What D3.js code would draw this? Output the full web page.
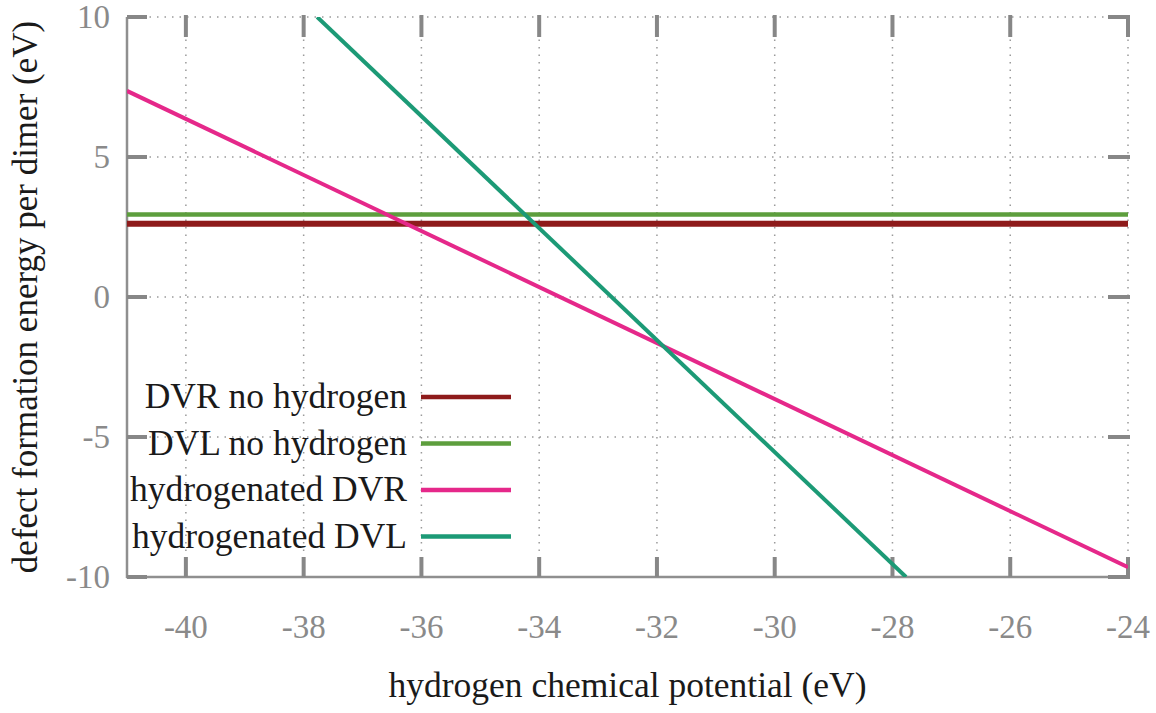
<!DOCTYPE html>
<html lang="en">
<meta charset="utf-8" />
<style>
    body {
        margin: 0;
        background: #fff;
    }

    text {
        font-family: "Liberation Serif", "DejaVu Serif", serif;
    }

    .grid line {
        stroke: #9a9a9a;
        stroke-width: 1.5px;
        stroke-dasharray: 1.5, 6;
    }

    .tick-label {
        fill: #8a8a8a;
        font-size: 33px;
    }
</style>

<body>
<svg width="1156" height="713"></svg>
<script src="https://d3js.org/d3.v7.min.js"></script>
<script>
    // chemical potential range (eV)
    var xTicks = [-40, -38, -36, -34, -32, -30, -28, -26, -24]
    var yTicks = [-10, -5, 0, 5, 10]

    var seriesNames = ["DVR no hydrogen", "DVL no hydrogen", "hydrogenated DVR", "hydrogenated DVL"]
    var seriesColors = ["#8e1b1b", "#5d9e3d", "#e5288a", "#1c9a76"]

    // [mu, E] points
    var dvrNoH = [[-41, 2.62], [-24, 2.62]]
    var dvlNoH = [[-41, 2.95], [-24, 2.95]]
    var hydDVR = [[-41, 7.36], [-24, -9.65]]
    var hydDVL = [[-37.77, 10], [-27.77, -10]]

    var svg = d3.select("svg")

    var pLeft = 127, pRight = 1128, pTop = 17, pBottom = 577

    var x = d3.scaleLinear().domain([-41, -24]).range([pLeft, pRight])
    var y = d3.scaleLinear().domain([-10, 10]).range([pBottom, pTop])

    // dotted grid
    var grid = svg.append("g").attr("class", "grid")
    grid.selectAll("line.v")
        .data(xTicks)
        .enter()
        .append("line")
        .attr("x1", d => x(d)).attr("x2", d => x(d))
        .attr("y1", pTop).attr("y2", pBottom)
    grid.selectAll("line.h")
        .data(yTicks)
        .enter()
        .append("line")
        .attr("x1", pLeft).attr("x2", pRight)
        .attr("y1", d => y(d)).attr("y2", d => y(d))

    // left and bottom axis lines
    svg.append("line")
        .attr("x1", pLeft).attr("x2", pLeft)
        .attr("y1", pTop).attr("y2", pBottom + 1)
        .attr("stroke", "#8f8f8f").attr("stroke-width", 2.5)
    svg.append("line")
        .attr("x1", pLeft - 1).attr("x2", pRight)
        .attr("y1", pBottom).attr("y2", pBottom)
        .attr("stroke", "#8f8f8f").attr("stroke-width", 2.5)

    // ticks, mirrored on top and right
    var tickLen = 20
    var ticks = svg.append("g").attr("stroke", "#878787").attr("stroke-width", 4)
    xTicks.forEach(function(d) {
        ticks.append("line")
            .attr("x1", x(d)).attr("x2", x(d))
            .attr("y1", pBottom).attr("y2", pBottom - tickLen)
        ticks.append("line")
            .attr("x1", x(d)).attr("x2", x(d))
            .attr("y1", pTop - 2).attr("y2", pTop + tickLen)
    })
    yTicks.forEach(function(d) {
        ticks.append("line")
            .attr("x1", pLeft).attr("x2", pLeft + tickLen)
            .attr("y1", y(d)).attr("y2", y(d))
        ticks.append("line")
            .attr("x1", pRight + 2).attr("x2", pRight - tickLen)
            .attr("y1", y(d)).attr("y2", y(d))
    })

    // tick labels
    svg.selectAll("text.xl")
        .data(xTicks)
        .enter()
        .append("text")
        .attr("class", "tick-label")
        .attr("x", d => x(d))
        .attr("y", 638)
        .attr("text-anchor", "middle")
        .text(d => d)
    svg.selectAll("text.yl")
        .data(yTicks)
        .enter()
        .append("text")
        .attr("class", "tick-label")
        .attr("x", 110)
        .attr("y", d => y(d) + 11)
        .attr("text-anchor", "end")
        .text(d => d)

    // axis titles
    svg.append("text")
        .attr("x", (pLeft + pRight) / 2)
        .attr("y", 697)
        .attr("text-anchor", "middle")
        .attr("font-size", 35.5)
        .attr("fill", "#1a1a1a")
        .text("hydrogen chemical potential (eV)")
    svg.append("text")
        .attr("transform", "translate(37," + (pTop + pBottom) / 2 + ") rotate(-90)")
        .attr("text-anchor", "middle")
        .attr("font-size", 35)
        .attr("fill", "#1a1a1a")
        .text("defect formation energy per dimer (eV)")

    // series
    var line = d3.line().x(d => x(d[0])).y(d => y(d[1]))
    var series = [dvrNoH, dvlNoH, hydDVR, hydDVL]
    var widths = [6, 4.5, 4, 4]

    svg.append("clipPath").attr("id", "clip")
        .append("rect")
        .attr("x", pLeft).attr("y", pTop)
        .attr("width", pRight - pLeft).attr("height", pBottom - pTop)

    svg.append("g")
        .attr("clip-path", "url(#clip)")
        .selectAll("path")
        .data(series)
        .enter()
        .append("path")
        .attr("d", d => line(d))
        .attr("fill", "none")
        .attr("stroke", (d, i) => seriesColors[i])
        .attr("stroke-width", (d, i) => widths[i])

    // legend
    var legend = svg.append("g")
    seriesNames.forEach(function(name, i) {
        var ly = 397 + i * 46.5
        legend.append("text")
            .attr("x", 407)
            .attr("y", ly + 11)
            .attr("text-anchor", "end")
            .attr("font-size", 35.5)
            .attr("fill", "#1a1a1a")
            .text(name)
        legend.append("line")
            .attr("x1", 421).attr("x2", 511)
            .attr("y1", ly).attr("y2", ly)
            .attr("stroke", seriesColors[i])
            .attr("stroke-width", 4.5)
    })
</script>
</body>
</html>
